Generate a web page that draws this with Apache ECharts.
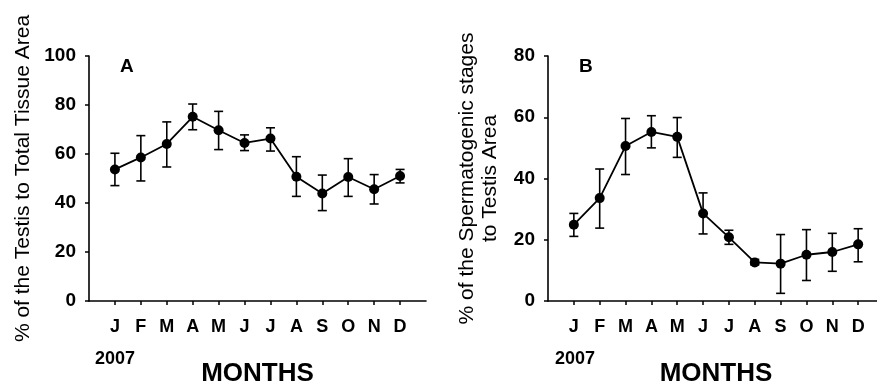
<!DOCTYPE html>
<html>
<head>
<meta charset="utf-8">
<script src="https://cdn.jsdelivr.net/npm/echarts@6/dist/echarts.min.js"></script>
<style>
html,body{margin:0;padding:0;background:#fff;}
#c{width:877px;height:382px;}
</style>
</head>
<body>
<div id="c"></div>
<script>
const months = ['J','F','M','A','M','J','J','A','S','O','N','D'];
const yTicksA = [0, 20, 40, 60, 80, 100];
const yTicksB = [0, 20, 40, 60, 80];
const meanA = [53.7, 58.6, 64.1, 75.2, 69.7, 64.5, 66.3, 50.7, 43.9, 50.6, 45.6, 51.0];
const lowA  = [47.1, 49.0, 54.7, 69.9, 61.8, 61.4, 61.2, 42.7, 36.9, 42.7, 39.6, 48.2];
const highA = [60.3, 67.5, 73.1, 80.4, 77.4, 67.8, 70.7, 58.9, 51.4, 58.1, 51.6, 53.7];
const meanB = [24.9, 33.6, 50.6, 55.2, 53.6, 28.6, 20.8, 12.6, 12.2, 15.1, 16.0, 18.5];
const lowB  = [21.1, 23.8, 41.3, 50.0, 46.9, 21.9, 18.5, 11.8, 2.5, 6.7, 9.7, 12.8];
const highB = [28.6, 43.1, 59.6, 60.5, 59.9, 35.3, 23.1, 13.6, 21.7, 23.3, 22.1, 23.6];
const yearLabel = '2007';

const FONT = '"Liberation Sans", Arial, sans-serif';
const cats = [''].concat(months, ['']);
function padded(arr){ return [null].concat(arr, [null]); }
function errData(mean, low, high){
  return mean.map((m, i) => [i + 1, m, low[i], high[i]]);
}
function errRender(params, api){
  const x = api.value(0);
  const lo = api.coord([x, api.value(2)]);
  const hi = api.coord([x, api.value(3)]);
  const w = 4.5;
  const st = {stroke:'#000', lineWidth:1.6};
  return {type:'group', children:[
    {type:'line', shape:{x1:lo[0], y1:lo[1], x2:hi[0], y2:hi[1]}, style:st},
    {type:'line', shape:{x1:hi[0]-w, y1:hi[1], x2:hi[0]+w, y2:hi[1]}, style:st},
    {type:'line', shape:{x1:lo[0]-w, y1:lo[1], x2:lo[0]+w, y2:lo[1]}, style:st}
  ]};
}
function xAx(gi){
  return {
    type:'category', gridIndex:gi, data:cats, boundaryGap:false,
    axisLine:{lineStyle:{color:'#000', width:1.6}},
    axisTick:{show:true, inside:false, length:4, interval:(i)=> i>0 && i<13, lineStyle:{color:'#000', width:1.5}},
    axisLabel:{interval:0, color:'#000', fontFamily:FONT, fontWeight:'bold', fontSize:18, margin:17},
    splitLine:{show:false},
    name:'MONTHS', nameLocation:'middle', nameGap:60,
    nameTextStyle:{color:'#000', fontFamily:FONT, fontWeight:'bold', fontSize:26}
  };
}
function yAx(gi, ticks, name, gap){
  return {
    type:'value', gridIndex:gi, min:ticks[0], max:ticks[ticks.length-1], interval:ticks[1]-ticks[0],
    axisLine:{show:true, lineStyle:{color:'#000', width:1.6}},
    axisTick:{show:true, length:4, lineStyle:{color:'#000', width:1.5}},
    axisLabel:{color:'#000', fontFamily:FONT, fontWeight:'bold', fontSize:19, margin:13},
    splitLine:{show:false},
    name:name, nameLocation:'middle', nameGap:gap, nameRotate:90,
    nameTextStyle:{color:'#000', fontFamily:FONT, fontSize:21, lineHeight:23, align:'center'}
  };
}
function lineSeries(gi, mean){
  return {
    type:'line', xAxisIndex:gi, yAxisIndex:gi, data:padded(mean), connectNulls:false,
    symbol:'circle', symbolSize:10, itemStyle:{color:'#000'},
    lineStyle:{color:'#000', width:1.8}, z:3, animation:false
  };
}
function errSeries(gi, mean, low, high){
  return {
    type:'custom', xAxisIndex:gi, yAxisIndex:gi, data:errData(mean, low, high),
    encode:{x:0, y:1}, renderItem:errRender, z:2, animation:false
  };
}
const tStyle = (fs) => ({color:'#000', fontFamily:FONT, fontWeight:'bold', fontSize:fs});
const chart = echarts.init(document.getElementById('c'), null, {renderer:'canvas'});
chart.setOption({
  backgroundColor:'#fff',
  animation:false,
  title:[
    {text:'A', left:120, top:57, padding:0, textStyle:tStyle(19)},
    {text:'B', left:579, top:57, padding:0, textStyle:tStyle(19)},
    {text:yearLabel, left:95, top:350, padding:0, textStyle:tStyle(18)},
    {text:yearLabel, left:555, top:350, padding:0, textStyle:tStyle(18)}
  ],
  grid:[
    {left:89, top:56, width:337, height:245, outerBoundsMode:'none', containLabel:false},
    {left:548, top:56, width:336, height:245, outerBoundsMode:'none', containLabel:false}
  ],
  xAxis:[xAx(0), xAx(1)],
  yAxis:[
    yAx(0, yTicksA, '% of the Testis to Total Tissue Area', 54),
    yAx(1, yTicksB, '% of the Spermatogenic stages\nto Testis Area', 46)
  ],
  series:[
    errSeries(0, meanA, lowA, highA),
    lineSeries(0, meanA),
    errSeries(1, meanB, lowB, highB),
    lineSeries(1, meanB)
  ]
});
</script>
</body>
</html>
